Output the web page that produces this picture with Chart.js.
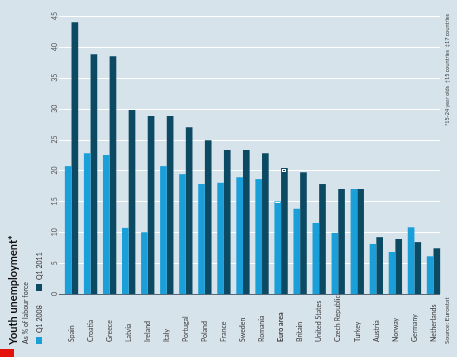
<!DOCTYPE html>
<html><head><meta charset="utf-8">
<script src="https://cdn.jsdelivr.net/npm/chart.js@4/dist/chart.umd.min.js"></script>
<style>html,body{margin:0;padding:0;background:#d7e3ea;}canvas{display:block}</style>
</head><body>
<canvas id="c" width="457" height="357"></canvas>
<script>
const categories = ["Spain","Croatia","Greece","Latvia","Ireland","Italy","Portugal","Poland","France","Sweden","Romania","Euro area","Britain","United States","Czech Republic","Turkey","Austria","Norway","Germany","Netherlands"];
const q1_2008 = [20.7,22.8,22.5,10.7,10.0,20.7,19.4,17.8,18.0,18.9,18.6,15.0,13.8,11.5,9.9,17.0,8.1,6.8,10.8,6.1];
const q1_2011 = [44.0,38.8,38.5,29.8,28.8,28.8,27.0,24.9,23.3,23.3,22.8,20.4,19.7,17.8,17.0,17.0,9.2,8.9,8.4,7.4];
const yTicks = [0,5,10,15,20,25,30,35,40,45];
const seriesNames = ["Q1 2008","Q1 2011"];

const LIGHT = "#1a9fd8", DARK = "#0c4a63", BG = "#d7e3ea", TXT = "#3a3a3a";
const FONT = "Lato, 'Open Sans', sans-serif";

function vtext(ctx, text, x, y, font, color, align, maxW){
  ctx.save();
  ctx.translate(x, y);
  ctx.rotate(-Math.PI/2);
  ctx.font = font;
  ctx.fillStyle = color;
  ctx.textAlign = align;
  ctx.textBaseline = "middle";
  if (maxW) ctx.fillText(text, 0, 0, maxW); else ctx.fillText(text, 0, 0);
  ctx.restore();
}

const decor = {
  id: "decor",
  beforeDraw(chart){
    const ctx = chart.ctx;
    ctx.save();
    ctx.fillStyle = BG;
    ctx.fillRect(0,0,chart.width,chart.height);
    ctx.fillStyle = "#e3120b";
    ctx.fillRect(0,349,14,8);
    ctx.restore();
  },
  beforeDatasetsDraw(chart){
    const ctx = chart.ctx, ys = chart.scales.y;
    ctx.save();
    ctx.strokeStyle = "#ffffff";
    ctx.lineWidth = 1;
    yTicks.forEach(v => {
      if (v === 0) return;
      const y = Math.round(ys.getPixelForValue(v)) + 0.5;
      ctx.beginPath(); ctx.moveTo(59, y); ctx.lineTo(440, y); ctx.stroke();
    });
    ctx.restore();
  },
  afterDatasetsDraw(chart){
    const ctx = chart.ctx, ys = chart.scales.y, xs = chart.scales.x;
    ctx.save();
    const y0 = Math.round(ys.getPixelForValue(0)) + 0.5;
    ctx.strokeStyle = "#54697a";
    ctx.lineWidth = 1;
    ctx.beginPath(); ctx.moveTo(59, y0); ctx.lineTo(440, y0); ctx.stroke();
    const ei = categories.indexOf("Euro area");
    const lb = chart.getDatasetMeta(0).data[ei], db = chart.getDatasetMeta(1).data[ei];
    ctx.strokeStyle = "#ffffff";
    ctx.beginPath(); ctx.moveTo(lb.x-2.5, Math.round(lb.y)+1.5); ctx.lineTo(lb.x+2.5, Math.round(lb.y)+1.5); ctx.stroke();
    ctx.strokeRect(Math.round(db.x)-1.5, Math.round(db.y)+1.5, 3, 2);
    ctx.restore();
    yTicks.forEach(v => {
      vtext(ctx, String(v), 55, ys.getPixelForValue(v), "7px " + FONT, "#555", "center");
    });
    categories.forEach((c, i) => {
      const bold = c === "Euro area";
      vtext(ctx, c, xs.getPixelForValue(i), 342, (bold ? "bold " : "") + "7px " + FONT, TXT, "left");
    });
    vtext(ctx, "Youth unemployment*", 13, 345, "bold 11px " + FONT, "#111", "left");
    vtext(ctx, "As % of labour force", 26, 344, "7px " + FONT, "#333", "left");
    ctx.save();
    ctx.fillStyle = LIGHT; ctx.fillRect(36, 337, 6, 7);
    ctx.fillStyle = DARK; ctx.fillRect(36, 284, 6, 7);
    ctx.restore();
    vtext(ctx, seriesNames[0], 39.5, 333, "7px " + FONT, "#333", "left");
    vtext(ctx, seriesNames[1], 39.5, 280, "7px " + FONT, "#333", "left");
    vtext(ctx, "*15-24 year olds  \u202015 countries  \u202117 countries", 447, 126, "5.5px " + FONT, "#444", "left", 112);
    vtext(ctx, "Source: Eurostat", 447, 344, "6.5px " + FONT, "#444", "left");
  }
};

new Chart(document.getElementById("c"), {
  type: "bar",
  data: {
    labels: categories,
    datasets: [
      { label: seriesNames[0], data: q1_2008, backgroundColor: LIGHT, borderWidth: 0 },
      { label: seriesNames[1], data: q1_2011, backgroundColor: DARK, borderWidth: 0 }
    ]
  },
  options: {
    responsive: false,
    animation: false,
    events: [],
    layout: { padding: { left: 62, right: 14, top: 16, bottom: 63 } },
    datasets: { bar: { categoryPercentage: 0.7, barPercentage: 1.0 } },
    plugins: { legend: { display: false }, tooltip: { enabled: false }, title: { display: false } },
    scales: {
      x: { display: false, offset: true },
      y: { display: false, min: 0, max: 45 }
    }
  },
  plugins: [decor]
});
</script>
</body></html>
